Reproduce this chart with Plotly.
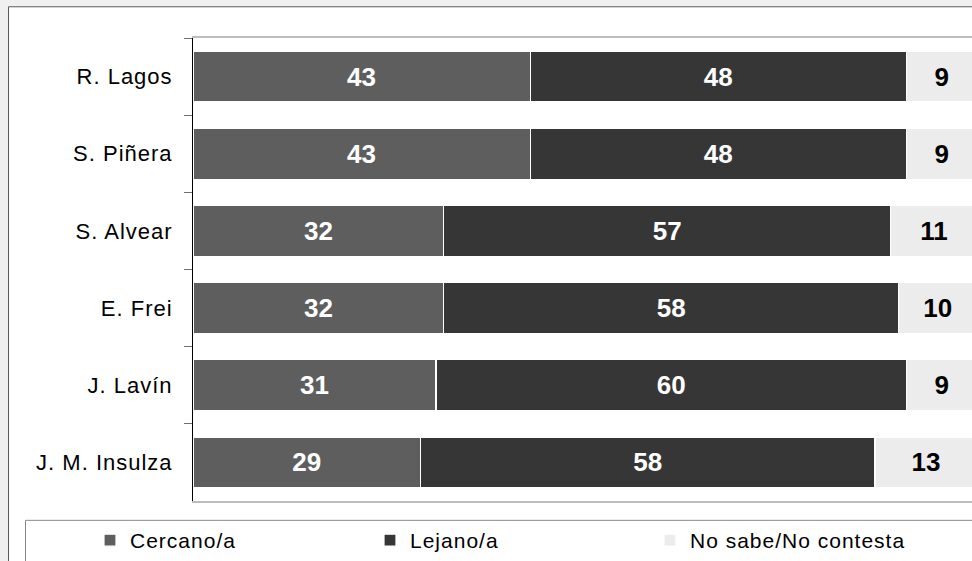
import plotly.graph_objects as go

candidates = ["R. Lagos", "S. Piñera", "S. Alvear", "E. Frei", "J. Lavín", "J. M. Insulza"]
cercano = [43, 43, 32, 32, 31, 29]
lejano = [48, 48, 57, 58, 60, 58]
no_sabe = [9, 9, 11, 10, 9, 13]

series = [
    ("Cercano/a", cercano, "#5e5e5e", "white"),
    ("Lejano/a", lejano, "#363636", "white"),
    ("No sabe/No contesta", no_sabe, "#ececec", "black"),
]

W, H = 972, 561
L, R, T, B = 193, 0, 38, 56
pw, ph = W - L - R, H - T - B

def px(x):
    return (x - L) / pw

def py(y):
    return (H - B - y) / ph

fig = go.Figure()
for name, vals, color, tcolor in series:
    fig.add_trace(go.Bar(
        y=candidates, x=vals, name=name, orientation="h",
        marker=dict(color=color, line=dict(color="white", width=1.2)),
        text=[str(v) for v in vals], textposition="inside",
        insidetextanchor="middle", textangle=0,
        textfont=dict(family="Liberation Sans", size=26, color=tcolor, weight="bold"),
        width=0.66,
    ))

fig.update_layout(
    width=W, height=H,
    margin=dict(l=L, r=R, t=T, b=B, pad=0),
    barmode="stack",
    paper_bgcolor="#f0f0f0",
    plot_bgcolor="rgba(0,0,0,0)",
    font=dict(family="Liberation Sans", size=21, color="black"),
    showlegend=True,
    legend=dict(
        orientation="h", x=px(90), xanchor="left", y=py(545), yanchor="middle",
        bgcolor="rgba(0,0,0,0)", borderwidth=0,
        entrywidth=235, entrywidthmode="pixels",
        font=dict(family="Liberation Sans", size=21, color="black"),
        traceorder="normal",
    ),
    xaxis=dict(range=[0, pw / 7.84], showticklabels=False, showgrid=False,
               zeroline=False, showline=True, linecolor="#bdbdbd", linewidth=1.5,
               mirror=True, ticks=""),
    yaxis=dict(autorange="reversed", showline=True, linecolor="black", linewidth=1,
               ticks="outside", ticklen=8, tickcolor="#707070", tickson="boundaries",
               showgrid=False, ticklabelstandoff=15,
               tickfont=dict(family="Liberation Sans", size=22, color="black")),
    shapes=[
        dict(type="rect", xref="paper", yref="paper", layer="below",
             x0=px(8.5), x1=px(990), y0=py(580), y1=py(6.5),
             fillcolor="white", line=dict(color="#5a5a5a", width=1)),
        dict(type="rect", xref="paper", yref="paper", layer="below",
             x0=px(25.5), x1=px(990), y0=py(580), y1=py(524.5),
             fillcolor="white", line=dict(color="#8a8a8a", width=1)),
    ],
)

post = (
    "document.body.style.margin='0';"
    "document.body.style.background='#f0f0f0';"
    "document.body.style.overflow='hidden';"
    "document.querySelectorAll('.ytick text').forEach(function(t){t.style.letterSpacing='1px';});"
    "document.querySelectorAll('.legendtext').forEach(function(t){t.style.letterSpacing='1px';});"
)

fig.write_html("out.html", config={"displayModeBar": False}, post_script=post)
